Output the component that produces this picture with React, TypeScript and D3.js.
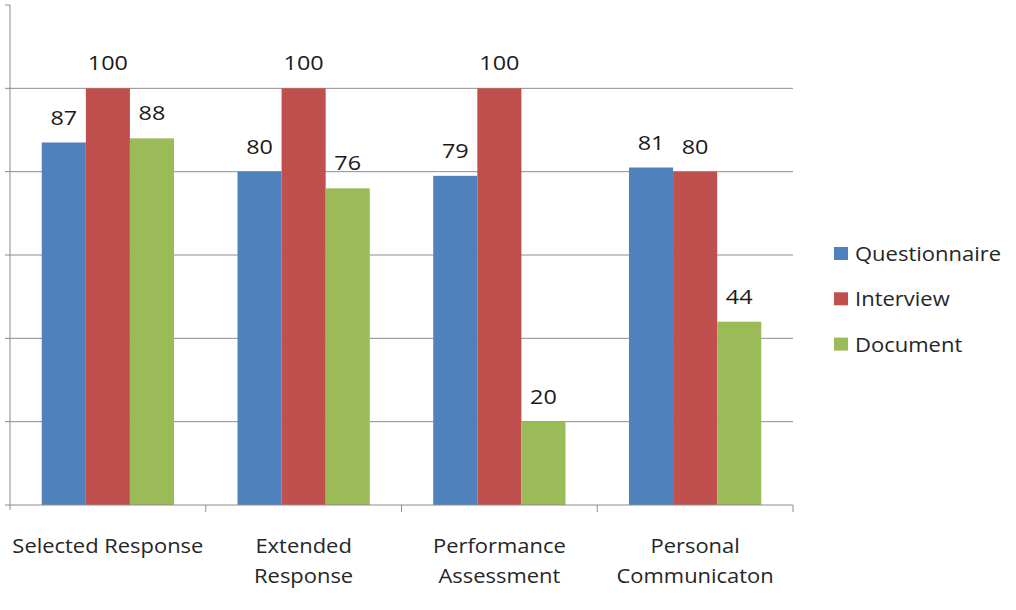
import React from "react";
import * as d3 from "d3";

const categories = ["Selected Response", "Extended Response", "Performance Assessment", "Personal Communicaton"];
const categoryLines = [["Selected Response"], ["Extended", "Response"], ["Performance", "Assessment"], ["Personal", "Communicaton"]];
const seriesNames = ["Questionnaire", "Interview", "Document"];
const questionnaire = [87, 80, 79, 81];
const interview = [100, 100, 100, 80];
const documentVals = [88, 76, 20, 44];
const seriesColors = ["#4F81BD", "#C0504D", "#9BBB59"];
const yTicks = [0, 20, 40, 60, 80, 100, 120];

const W = 1016;
const H = 610;
const plot = { left: 10, right: 793, top: 5, bottom: 505 };
const FONT = "'Open Sans', 'Liberation Sans', sans-serif";

// Text drawn slightly widened horizontally
function WideText(props: { x: number; y: number; sx: number; size: number; anchor?: string; fill?: string; children: React.ReactNode }) {
  const { x, y, sx, size, anchor, fill, children } = props;
  return (
    <text
      transform={`translate(${x},${y}) scale(${sx},1)`}
      textAnchor={anchor || "start"}
      fontFamily={FONT}
      fontSize={size}
      fill={fill || "#262626"}
    >
      {children}
    </text>
  );
}

export default function App() {
  const series = [questionnaire, interview, documentVals];
  const x0 = d3.scaleBand<string>().domain(categories).range([plot.left, plot.right]).paddingInner(0).paddingOuter(0);
  const x1 = d3.scaleBand<string>().domain(seriesNames).range([0, x0.bandwidth()]).paddingOuter(0.72).paddingInner(0);
  const y = d3.scaleLinear().domain([0, 120]).range([plot.bottom, plot.top]);
  const gridColor = "#8c8c8c";

  return (
    <svg width={W} height={H} style={{ position: "absolute", left: 0, top: 0, background: "#fff" }}>
      {/* horizontal gridlines */}
      {yTicks.filter((t) => t > 0 && t < 120).map((t) => (
        <line key={t} x1={plot.left - 5} x2={plot.right} y1={y(t)} y2={y(t)} stroke={gridColor} strokeWidth={1} />
      ))}
      <line x1={plot.left - 5} x2={plot.left} y1={y(120)} y2={y(120)} stroke={gridColor} strokeWidth={1} />
      {/* bars */}
      {categories.map((c, ci) => (
        <g key={c} transform={`translate(${x0(c)},0)`}>
          {series.map((vals, si) => (
            <rect
              key={si}
              x={x1(seriesNames[si])}
              y={y(vals[ci])}
              width={x1.bandwidth()}
              height={y(0) - y(vals[ci])}
              fill={seriesColors[si]}
            />
          ))}
          {series.map((vals, si) => (
            <WideText
              key={"l" + si}
              x={(x1(seriesNames[si]) as number) + x1.bandwidth() / 2}
              y={y(vals[ci]) - 18}
              sx={1.17}
              size={20}
              anchor="middle"
              fill="#1a1a1a"
            >
              {vals[ci]}
            </WideText>
          ))}
        </g>
      ))}
      {/* axes */}
      <line x1={plot.left} x2={plot.left} y1={plot.top} y2={plot.bottom + 5} stroke={gridColor} strokeWidth={1} />
      <line x1={plot.left - 5} x2={plot.right} y1={plot.bottom} y2={plot.bottom} stroke={gridColor} strokeWidth={1} />
      {categories.map((c) => (
        <line key={"t" + c} x1={(x0(c) as number) + x0.bandwidth()} x2={(x0(c) as number) + x0.bandwidth()} y1={plot.bottom} y2={plot.bottom + 7} stroke={gridColor} strokeWidth={1} />
      ))}
      {/* category labels */}
      {categories.map((c, ci) =>
        categoryLines[ci].map((line, li) => (
          <WideText key={c + li} x={(x0(c) as number) + x0.bandwidth() / 2} y={553 + li * 30} sx={1.07} size={20.5} anchor="middle">
            {line}
          </WideText>
        ))
      )}
      {/* legend */}
      {seriesNames.map((s, si) => (
        <g key={s} transform={`translate(834, ${247 + si * 45.3})`}>
          <rect x={0} y={0} width={14} height={13} fill={seriesColors[si]} />
          <WideText x={21} y={14} sx={1.1} size={20}>
            {s}
          </WideText>
        </g>
      ))}
    </svg>
  );
}
